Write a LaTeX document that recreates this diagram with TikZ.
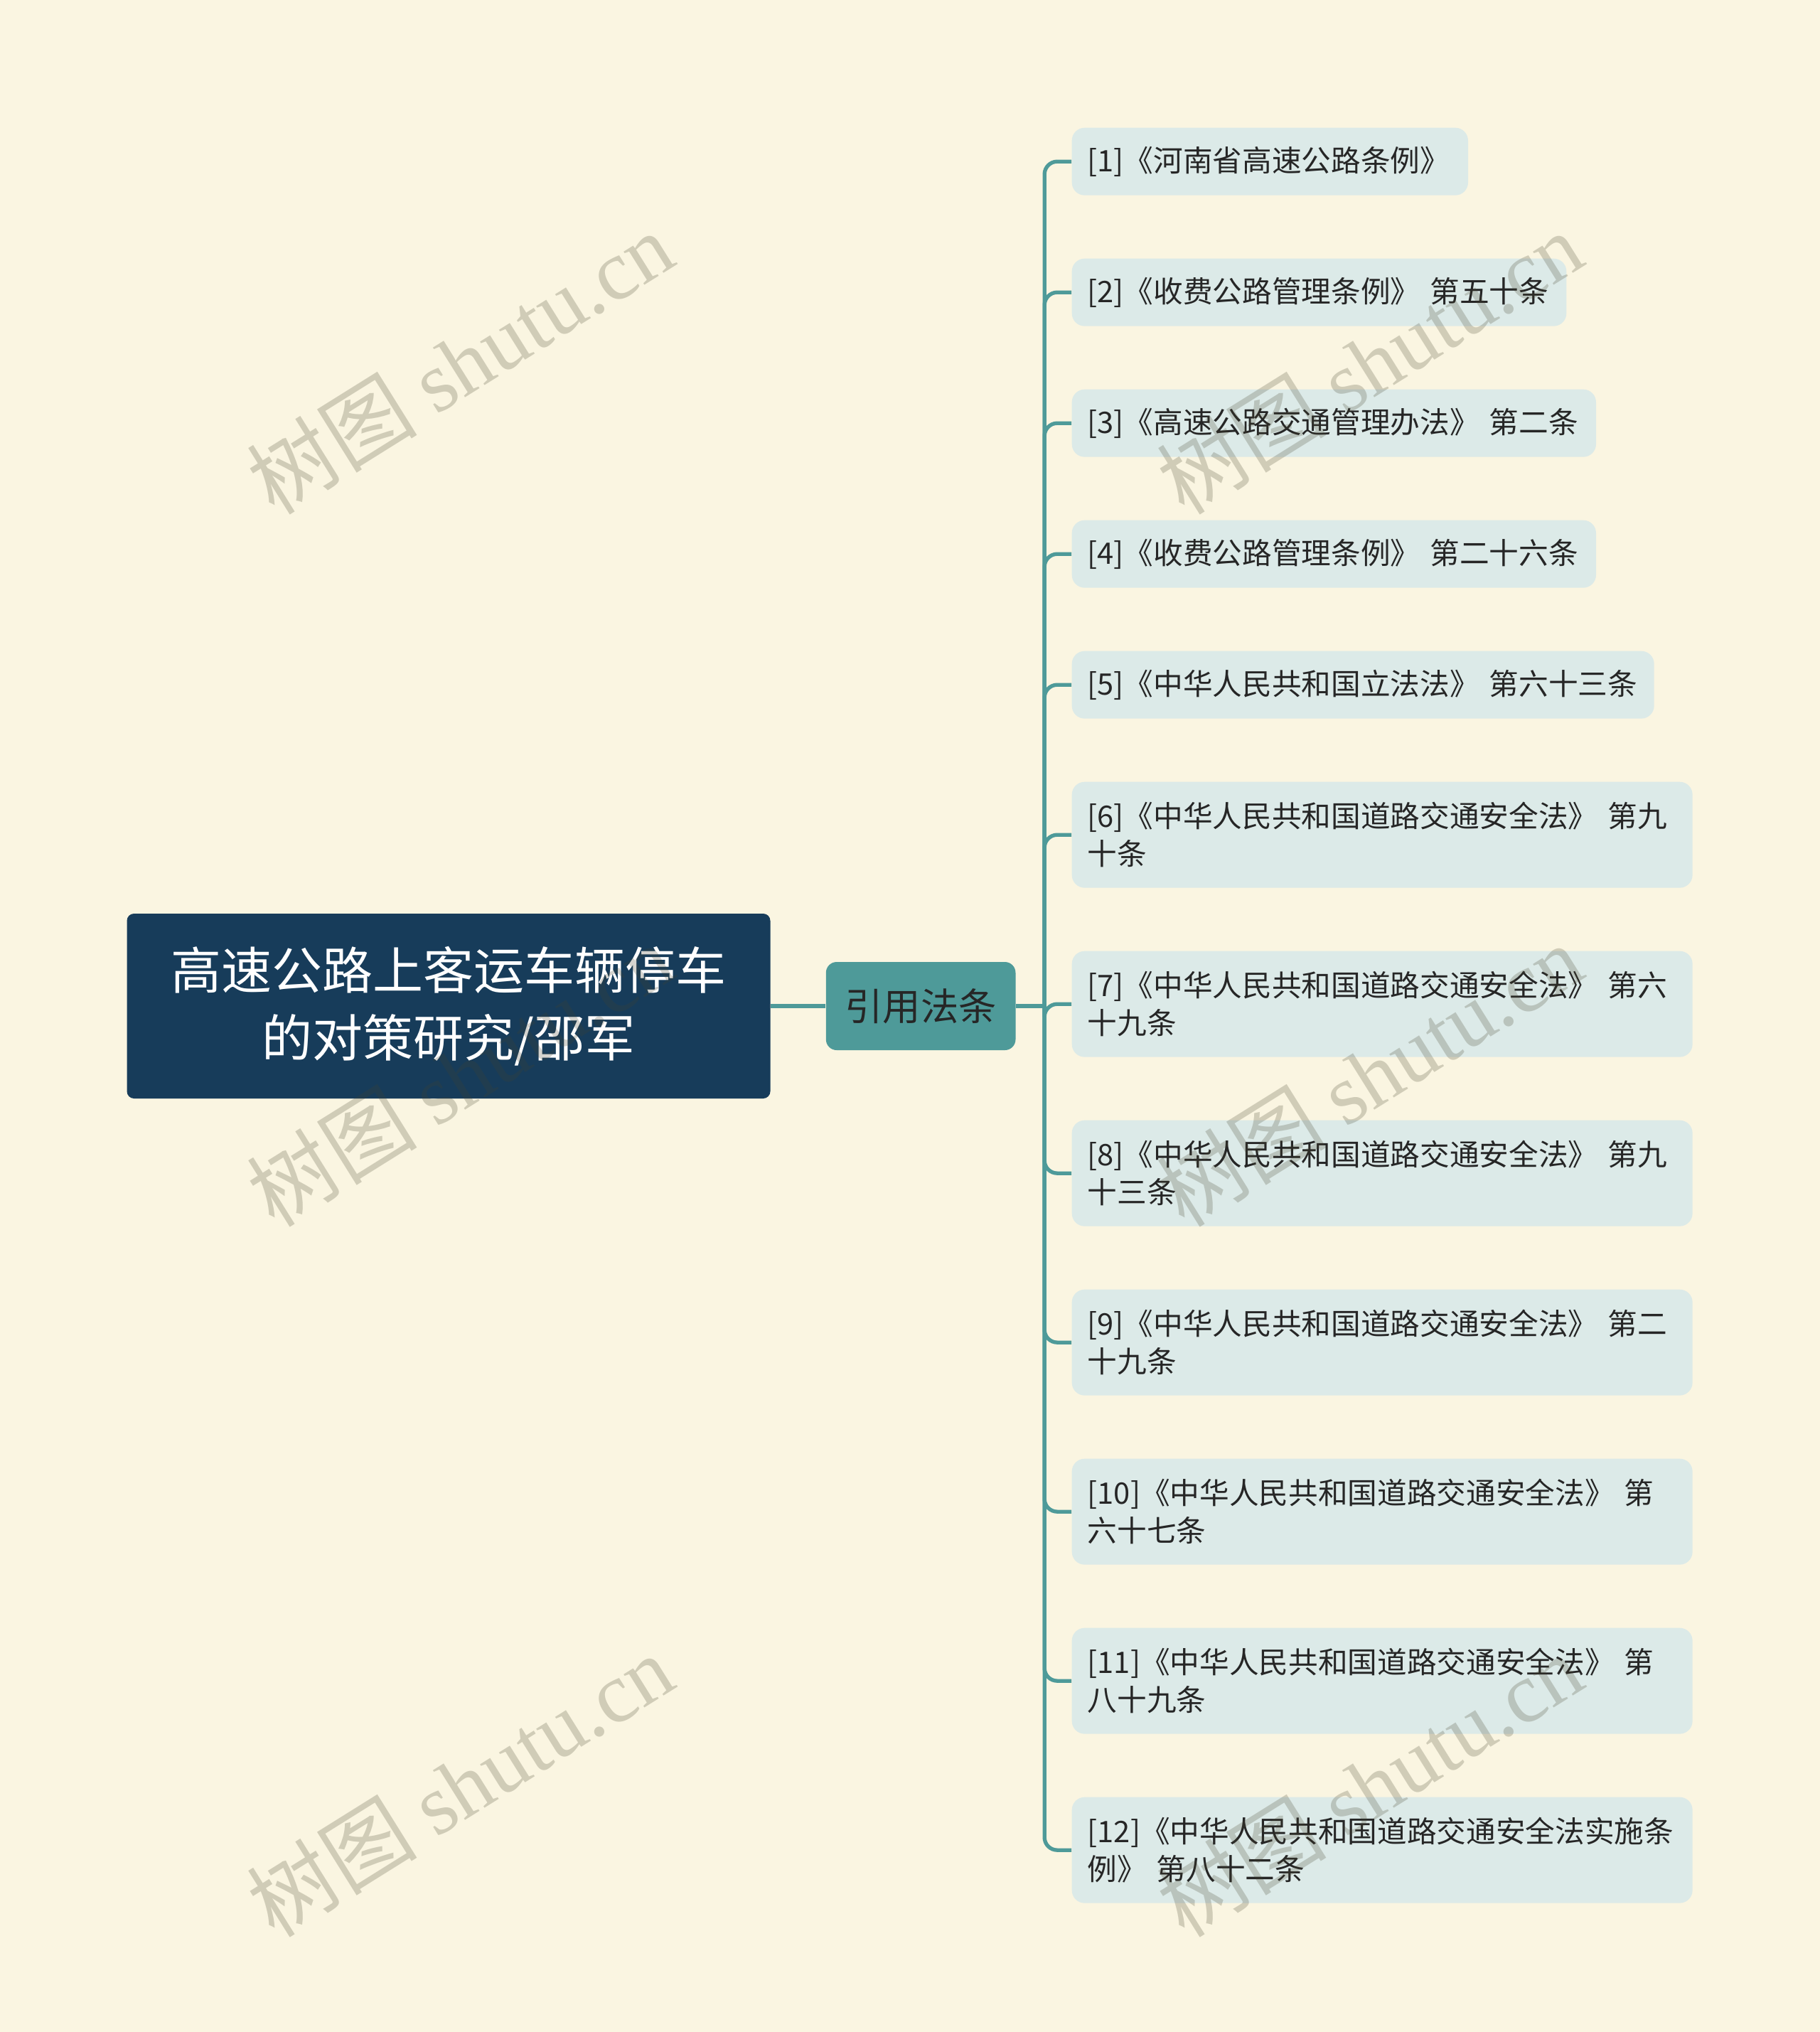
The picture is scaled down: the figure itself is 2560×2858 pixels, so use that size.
\documentclass[tikz,border=0pt]{standalone}
\usepackage{fontspec}
\setmainfont{Noto Sans CJK SC}
\newfontfamily\wmserif{Liberation Serif}
\usetikzlibrary{positioning, calc}
\definecolor{bgcol}{RGB}{250,245,225}
\definecolor{rootcol}{RGB}{23,60,90}
\definecolor{topiccol}{RGB}{78,154,153}
\definecolor{leafcol}{RGB}{220,234,232}
\definecolor{linkcol}{RGB}{78,154,153}
\definecolor{textcol}{RGB}{38,38,38}
\definecolor{wmcol}{RGB}{70,68,45}

\begin{document}
\begin{tikzpicture}[
			x=0.3pt, y=-0.3pt,
			node distance=26.3pt,
			root/.style={
				fill=rootcol,
				rounded corners=3pt,
				text=white,
				minimum width=271.5pt,
				minimum height=78pt,
				align=center,
				font=\fontsize{21.3pt}{28.5pt}\selectfont
			},
			topic/.style={
				fill=topiccol,
				rounded corners=4.5pt,
				text=textcol,
				minimum width=80pt,
				minimum height=37.2pt,
				font=\fontsize{16pt}{19pt}\selectfont
			},
			leaf/.style={
				fill=leafcol,
				rounded corners=5.4pt,
				text=textcol,
				inner xsep=6.6pt,
				minimum height=28.5pt,
				align=left,
				font=\fontsize{12.5pt}{16pt}\selectfont
			},
			tall/.style={
				minimum height=44.7pt,
				text width=248.7pt
			},
			link/.style={
				draw=linkcol,
				line width=1.6pt
			},
			watermark/.style={
				text=wmcol,
				opacity=0.23,
				rotate=32,
				font=\fontsize{36pt}{36pt}\selectfont
			}
			]
			% Background
			\fill[bgcol] (0,0) rectangle (2560,2858);
			
			% Main nodes
			\node[root] (root) at (631,1415) {高速公路上客运车辆停车\\的对策研究/邵军};
			\node[topic] (topic) [right=23.1pt of root] {引用法条};
			\coordinate[right=12pt of topic] (fork);
			
			% Leaves
			\node[leaf, text width=154pt, anchor=north west] (l1) at (1507,179) {[1]《河南省高速公路条例》};
			\node[leaf, text width=195.5pt, below=of l1.south west, anchor=north west] (l2) {[2]《收费公路管理条例》 第五十条};
			\node[leaf, text width=208pt, below=of l2.south west, anchor=north west] (l3) {[3]《高速公路交通管理办法》 第二条};
			\node[leaf, text width=208pt, below=of l3.south west, anchor=north west] (l4) {[4]《收费公路管理条例》 第二十六条};
			\node[leaf, text width=232.5pt, below=of l4.south west, anchor=north west] (l5) {[5]《中华人民共和国立法法》 第六十三条};
			\node[leaf, tall, below=of l5.south west, anchor=north west] (l6) {[6]《中华人民共和国道路交通安全法》 第九\\十条};
			\node[leaf, tall, below=of l6.south west, anchor=north west] (l7) {[7]《中华人民共和国道路交通安全法》 第六\\十九条};
			\node[leaf, tall, below=of l7.south west, anchor=north west] (l8) {[8]《中华人民共和国道路交通安全法》 第九\\十三条};
			\node[leaf, tall, below=of l8.south west, anchor=north west] (l9) {[9]《中华人民共和国道路交通安全法》 第二\\十九条};
			\node[leaf, tall, below=of l9.south west, anchor=north west] (l10) {[10]《中华人民共和国道路交通安全法》 第\\六十七条};
			\node[leaf, tall, below=of l10.south west, anchor=north west] (l11) {[11]《中华人民共和国道路交通安全法》 第\\八十九条};
			\node[leaf, tall, below=of l11.south west, anchor=north west] (l12) {[12]《中华人民共和国道路交通安全法实施条\\例》 第八十二条};
			
			% Connectors
			\draw[link] (root) -- (topic);
			\draw[link] (topic) -- (fork);
			\foreach \i in {1,...,12}
				\draw[link, rounded corners=5.4pt] (fork) |- (l\i.west);
			
			% Watermarks
			\foreach \wx/\wy [count=\n] in {647/510, 1926/510, 647/1512, 1926/1512, 647/2511, 1926/2511}
				\node[watermark] (wm\n) at (\wx,\wy) {树图 {\wmserif shutu.cn}};
		\end{tikzpicture}
\end{document}
